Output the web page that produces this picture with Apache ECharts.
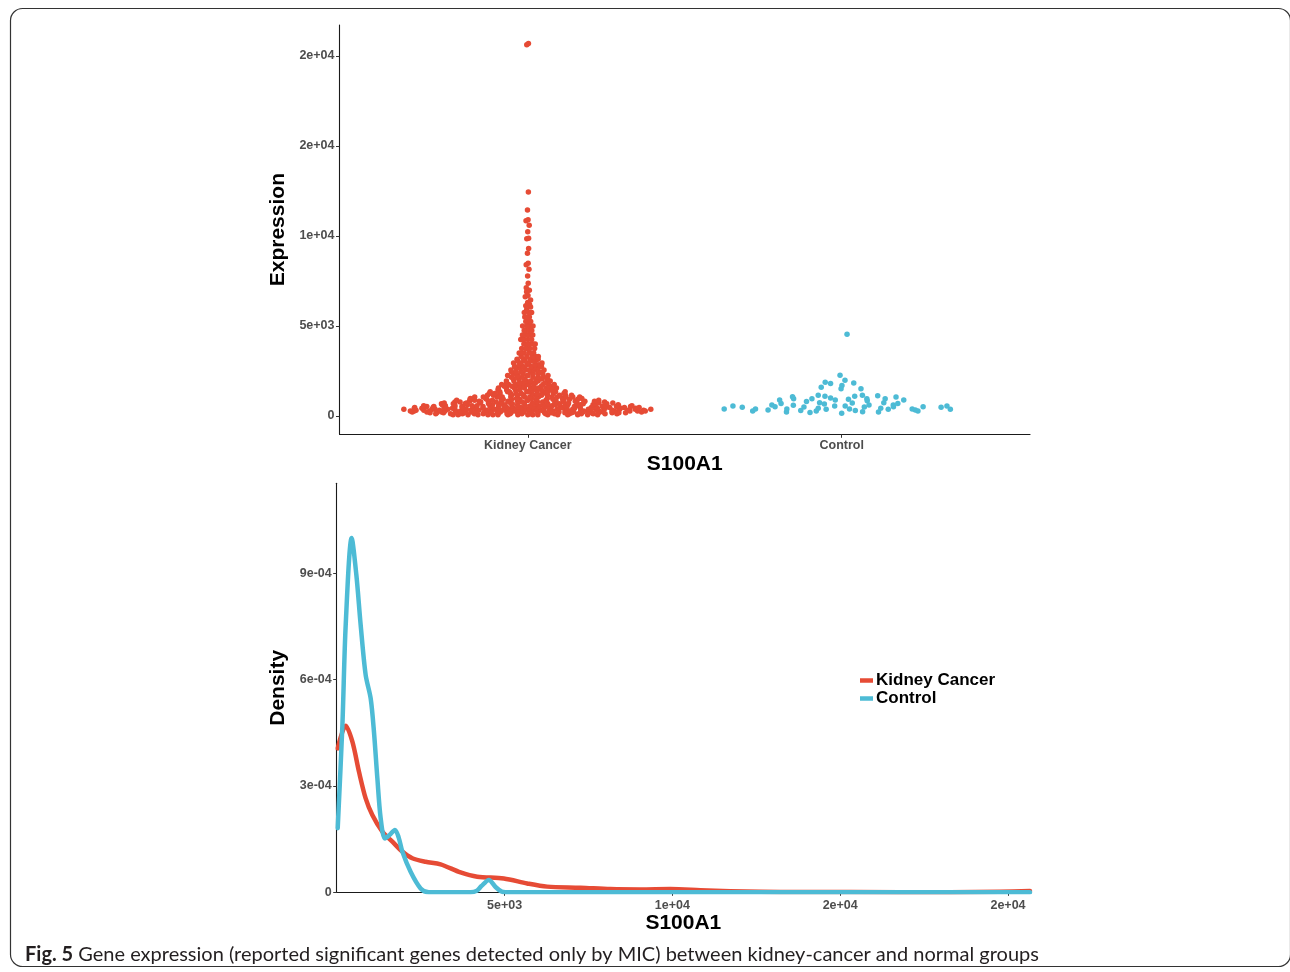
<!DOCTYPE html>
<html>
<head>
<meta charset="utf-8">
<script src="https://cdn.jsdelivr.net/npm/echarts@6/dist/echarts.min.js"></script>
<style>
html, body { margin: 0; padding: 0; background: #fff; }
#chart { width: 1290px; height: 972px; }
</style>
</head>
<body>
<div id="chart"></div>
<script>
// groups on the swarm plot
var groups = ['Kidney Cancer', 'Control'];

// kidney cancer expression: [value, number of samples near that value]
var kidneyLevels = [
	[75, 18], [125, 20], [175, 20], [225, 19], [275, 19], [325, 18], [375, 18], [425, 17],
	[475, 16], [525, 15], [575, 14], [625, 13], [675, 12], [725, 12], [775, 11], [825, 10],
	[875, 9], [925, 9], [975, 8], [1050, 13], [1150, 12], [1250, 11], [1350, 10], [1450, 9],
	[1550, 8], [1650, 8], [1750, 7], [1850, 7], [1950, 6], [2050, 6], [2150, 6], [2250, 5],
	[2350, 5], [2450, 5], [2550, 5], [2650, 5], [2750, 4], [2850, 4], [2950, 4], [3050, 4],
	[3150, 4], [3300, 5], [3500, 6], [3750, 5], [4000, 5], [4250, 5], [4500, 4], [4750, 4],
	[5000, 4], [5250, 3], [5500, 3], [5750, 3]
];
// sparse upper tail, one value per sample
var kidneyTail = [5900, 6050, 6120, 6200, 6300, 6440, 6630, 6700, 6900, 6980, 7120, 7370, 7780,
	8150, 8400, 8480, 9040, 9300, 9850, 9870, 10240, 10600, 10850, 10900, 11440, 12440, 20620, 20700];

var controlValues = [370, 555, 480, 280, 390, 330, 610, 700, 520, 220, 890, 390, 1060, 590, 960, 300,
	740, 500, 200, 1130, 890, 700, 280, 430, 1520, 1830, 1090, 370, 960, 1690, 520, 4540, 850, 1980,
	1150, 1590, 150, 555, 2260, 925, 1870, 370, 740, 1810, 1090, 300, 1520, 500, 1150, 960, 280, 800,
	610, 220, 430, 1070, 960, 720, 390, 555, 610, 890, 1000, 670, 390, 330, 240, 520, 480, 555, 390];

// density curves
var kidneyDensX = [30, 268, 467, 664, 863, 1062, 1360, 1658, 1955, 2253, 2649, 3095, 3690, 4187,
	4979, 5675, 6270, 7262, 8155, 9048, 9940, 10833, 11726, 12619, 13810, 15298, 18274, 19762, 20655];
var kidneyDensY = [4.06e-4, 4.70e-4, 4.25e-4, 3.40e-4, 2.65e-4, 2.18e-4, 1.71e-4, 1.43e-4, 1.15e-4,
	0.96e-4, 0.86e-4, 0.79e-4, 0.56e-4, 0.44e-4, 0.39e-4, 0.25e-4, 0.16e-4, 0.13e-4, 0.09e-4, 0.08e-4,
	0.09e-4, 0.06e-4, 0.03e-4, 0.015e-4, 0.01e-4, 0.005e-4, 0.003e-4, 0.015e-4, 0.035e-4];
var controlDensX = [30, 170, 268, 446, 586, 714, 863, 1012, 1110, 1211, 1310, 1437, 1577, 1735, 1845,
	1955, 2202, 2500, 2747, 3990, 4167, 4315, 4533, 4732, 4911, 5030, 20655];
var controlDensY = [1.81e-4, 4.72e-4, 7.54e-4, 1.0e-3, 8.95e-4, 7.54e-4, 6.13e-4, 5.47e-4, 4.53e-4,
	3.22e-4, 2.09e-4, 1.52e-4, 1.62e-4, 1.76e-4, 1.55e-4, 1.15e-4, 0.58e-4, 0.11e-4, 0, 0, 0.04e-4,
	0.18e-4, 0.35e-4, 0.15e-4, 0.02e-4, 0, 0];

// tick labels as printed in the figure
var swarmTickValues = [0, 5000, 10000, 15000, 20000];
var swarmTickLabels = ['0', '5e+03', '1e+04', '2e+04', '2e+04'];
var densXTickValues = [5000, 10000, 15000, 20000];
var densXTickLabels = ['5e+03', '1e+04', '2e+04', '2e+04'];
var densYTickValues = [0, 0.0003, 0.0006, 0.0009];
var densYTickLabels = ['0', '3e-04', '6e-04', '9e-04'];

var caption = 'Gene expression (reported significant genes detected only by MIC) between kidney-cancer and normal groups';

var RED = '#E64B35';
var BLUE = '#4DBBD5';

function vanDerCorput(n)
{
	var out = [];
	for (var i = 1; i <= n; i++)
	{
		var v = 0, denom = 1, k = i;
		while (k > 0) { denom *= 2; v += (k % 2) / denom; k = Math.floor(k / 2); }
		out.push(v);
	}
	return out;
}

function quantile(sorted, p)
{
	var h = (sorted.length - 1) * p, lo = Math.floor(h);
	return sorted[lo] + (h - lo) * ((sorted[lo + 1] === undefined ? sorted[lo] : sorted[lo + 1]) - sorted[lo]);
}

function bwNrd0(x)
{
	var s = x.slice().sort(function(a, b) { return a - b; });
	var n = s.length, mean = 0, sd = 0;
	s.forEach(function(v) { mean += v; });
	mean /= n;
	s.forEach(function(v) { sd += (v - mean) * (v - mean); });
	sd = Math.sqrt(sd / (n - 1));
	var iqr = quantile(s, 0.75) - quantile(s, 0.25);
	var lo = Math.min(sd, iqr / 1.34) || sd || 1;
	return 0.9 * lo * Math.pow(n, -0.2);
}

// quasirandom offsets (same idea as ggbeeswarm::geom_quasirandom)
function quasirandom(values, width, adjust)
{
	var bw = bwNrd0(values) * adjust;
	function dens(y)
	{
		var s = 0;
		for (var i = 0; i < values.length; i++) { var z = (y - values[i]) / bw; s += Math.exp(-0.5 * z * z); }
		return s;
	}
	var d = values.map(dens);
	var mn = Math.min.apply(null, values) - 3 * bw, mx = Math.max.apply(null, values) + 3 * bw;
	var maxd = Math.max.apply(null, d);
	for (var g = 0; g < 512; g++) maxd = Math.max(maxd, dens(mn + (mx - mn) * g / 511));
	var idx = values.map(function(v, i) { return i; });
	idx.sort(function(a, b) { return values[a] - values[b] || a - b; });
	var rank = [];
	idx.forEach(function(id, r) { rank[id] = r; });
	var q = vanDerCorput(values.length);
	return values.map(function(v, i) { return (q[rank[i]] - 0.5) * 2 * width * d[i] / maxd; });
}

function swarmData(values, pos)
{
	var off = quasirandom(values, 0.4, 0.5);
	return values.map(function(v, i) { return [pos + off[i], v]; });
}

function labelOf(vals, labels)
{
	return function(v)
	{
		for (var i = 0; i < vals.length; i++) if (Math.abs(vals[i] - v) < 1e-9 + Math.abs(vals[i]) * 1e-6) return labels[i];
		return '';
	};
}

var kidneyValues = [];
kidneyLevels.forEach(function(l) { for (var i = 0; i < l[1]; i++) kidneyValues.push(l[0]); });
kidneyValues = kidneyValues.concat(kidneyTail);

function zip(xs, ys) { return xs.map(function(x, i) { return [x, ys[i]]; }); }

var FONT = 'Liberation Sans';
var tickLabel = { color: '#4d4d4d', fontWeight: 'bold', fontSize: 12.5, fontFamily: FONT };
var titleStyle = { color: '#000', fontWeight: 'bold', fontSize: 21, fontFamily: FONT };
var axisLine = { show: true, onZero: false, lineStyle: { color: '#1a1a1a', width: 1.1 } };
function ticks(vals) { return { show: true, customValues: vals, length: 3.5, lineStyle: { color: '#333', width: 1 } }; }

var chart = echarts.init(document.getElementById('chart'));

var option =
{
	animation: false,
	backgroundColor: '#fff',
	grid:
	[
		{ left: 339.5, top: 25, width: 690.5, height: 409.3 },
		{ left: 336.7, top: 483.3, width: 693.3, height: 409 }
	],
	legend:
	{
		data: [ { name: 'Kidney Cancer', icon: 'rect' }, { name: 'Control', icon: 'rect' } ],
		orient: 'vertical',
		left: 855, top: 667,
		itemWidth: 13, itemHeight: 4.5, itemGap: 1,
		textStyle: { color: '#000', fontWeight: 'bold', fontSize: 17, fontFamily: FONT, padding: [0, 0, 0, -2] },
		selectedMode: false
	},
	xAxis:
	[
		{
			gridIndex: 0, type: 'value', min: 0.4, max: 2.6,
			axisLine: axisLine, axisTick: ticks([1, 2]),
			axisLabel: Object.assign({ customValues: [1, 2], margin: 5, formatter: function(v) { return groups[Math.round(v) - 1]; } }, tickLabel),
			splitLine: { show: false },
			name: 'S100A1', nameLocation: 'middle', nameGap: 19, nameTextStyle: titleStyle
		},
		{
			gridIndex: 1, type: 'value', min: 0, max: 20655,
			axisLine: axisLine, axisTick: ticks(densXTickValues),
			axisLabel: Object.assign({ customValues: densXTickValues, margin: 6.5, formatter: labelOf(densXTickValues, densXTickLabels) }, tickLabel),
			splitLine: { show: false },
			name: 'S100A1', nameLocation: 'middle', nameGap: 20, nameTextStyle: titleStyle
		}
	],
	yAxis:
	[
		{
			gridIndex: 0, type: 'value', min: -1017, max: 21722,
			axisLine: axisLine, axisTick: ticks(swarmTickValues),
			axisLabel: Object.assign({ customValues: swarmTickValues, margin: 5, formatter: labelOf(swarmTickValues, swarmTickLabels) }, tickLabel),
			splitLine: { show: false },
			name: 'Expression', nameLocation: 'middle', nameGap: 39, nameTextStyle: titleStyle
		},
		{
			gridIndex: 1, type: 'value', min: 0, max: 0.001154,
			axisLine: axisLine, axisTick: ticks(densYTickValues),
			axisLabel: Object.assign({ customValues: densYTickValues, margin: 5, formatter: labelOf(densYTickValues, densYTickLabels) }, tickLabel),
			splitLine: { show: false },
			name: 'Density', nameLocation: 'middle', nameGap: 41, nameTextStyle: titleStyle
		}
	],
	series:
	[
		{
			name: 'Kidney Cancer swarm', type: 'scatter', xAxisIndex: 0, yAxisIndex: 0,
			data: swarmData(kidneyValues, 1), symbolSize: 5.5,
			itemStyle: { color: RED, opacity: 1 }, silent: true
		},
		{
			name: 'Control swarm', type: 'scatter', xAxisIndex: 0, yAxisIndex: 0,
			data: swarmData(controlValues, 2), symbolSize: 5.5,
			itemStyle: { color: BLUE, opacity: 1 }, silent: true
		},
		{
			name: 'Kidney Cancer', type: 'line', xAxisIndex: 1, yAxisIndex: 1,
			data: zip(kidneyDensX, kidneyDensY), smooth: 0.3, showSymbol: false,
			color: RED, lineStyle: { color: RED, width: 4.5, cap: 'round', join: 'round' }, silent: true
		},
		{
			name: 'Control', type: 'line', xAxisIndex: 1, yAxisIndex: 1,
			data: zip(controlDensX, controlDensY), smooth: 0.3, showSymbol: false,
			color: BLUE, lineStyle: { color: BLUE, width: 4.5, cap: 'round', join: 'round' }, silent: true
		}
	],
	graphic:
	[
		{
			type: 'rect', silent: true,
			shape: { x: 10.5, y: 8.5, width: 1280, height: 958, r: 12 },
			style: { fill: 'none', stroke: '#333', lineWidth: 1.2 }
		},
		{
			type: 'text', left: 25, top: 945, silent: true,
			style:
			{
				text: '{b|Fig. 5} ' + caption,
				fill: '#231f20', font: '20px Lato',
				rich: { b: { fontWeight: 'bold', fontSize: 20, fontFamily: 'Lato', fill: '#231f20' } }
			}
		}
	]
};

chart.setOption(option);
</script>
</body>
</html>
